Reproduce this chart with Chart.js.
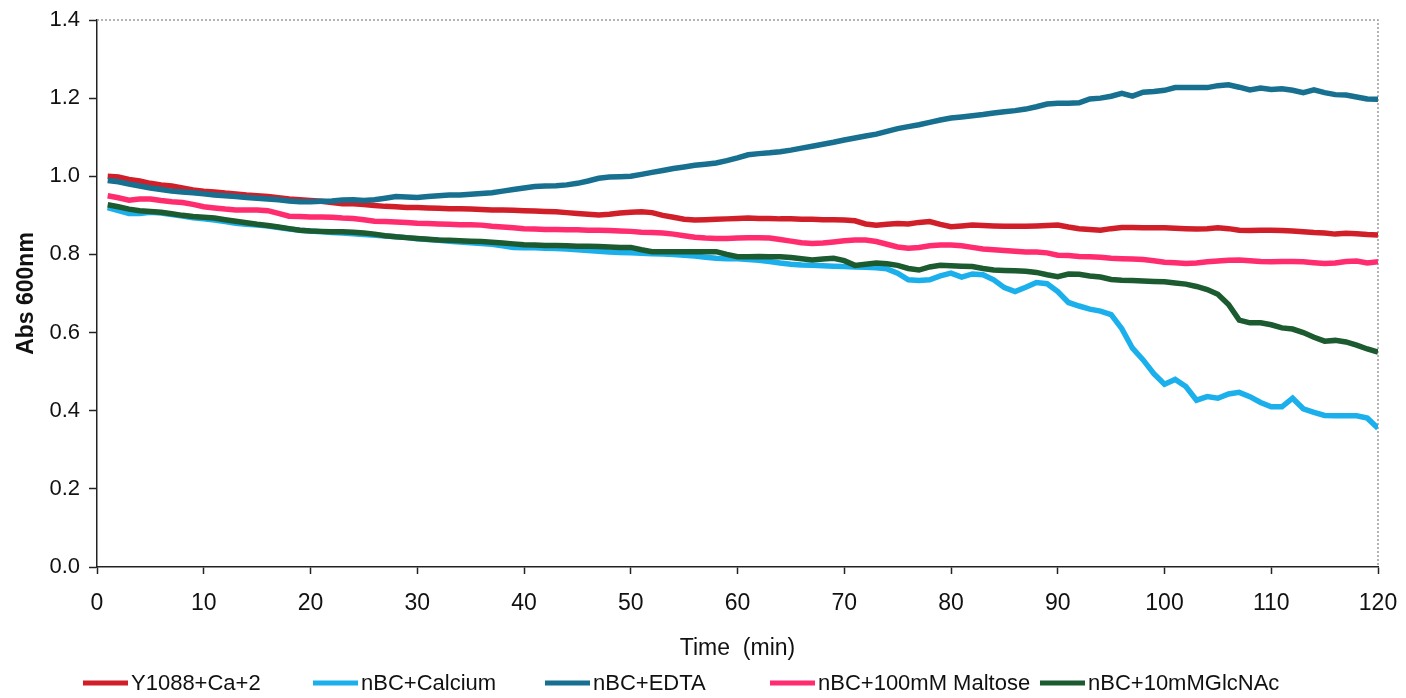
<!DOCTYPE html>
<html>
<head>
<meta charset="utf-8">
<script src="https://cdn.jsdelivr.net/npm/chart.js@4.4.1/dist/chart.umd.min.js"></script>
<style>
  html, body { margin: 0; padding: 0; background: #fff; }
  #wrap { width: 1406px; height: 698px; }
</style>
</head>
<body>
<div id="wrap"><canvas id="absChart" width="1406" height="698"></canvas></div>
<script>
// --- Data (one reading per minute) ---
const times = [
  1, 2, 3, 4, 5, 6, 7, 8, 9, 10, 11, 12, 13, 14, 15, 16, 17, 18, 19, 20,
  21, 22, 23, 24, 25, 26, 27, 28, 29, 30, 31, 32, 33, 34, 35, 36, 37, 38, 39, 40,
  41, 42, 43, 44, 45, 46, 47, 48, 49, 50, 51, 52, 53, 54, 55, 56, 57, 58, 59, 60,
  61, 62, 63, 64, 65, 66, 67, 68, 69, 70, 71, 72, 73, 74, 75, 76, 77, 78, 79, 80,
  81, 82, 83, 84, 85, 86, 87, 88, 89, 90, 91, 92, 93, 94, 95, 96, 97, 98, 99, 100,
  101, 102, 103, 104, 105, 106, 107, 108, 109, 110, 111, 112, 113, 114, 115, 116, 117, 118, 119, 120
];

const y1088Ca = [
  1.000, 0.998, 0.992, 0.988, 0.982, 0.978, 0.975, 0.970, 0.965, 0.962,
  0.960, 0.957, 0.955, 0.952, 0.950, 0.948, 0.945, 0.942, 0.940, 0.938,
  0.936, 0.933, 0.930, 0.930, 0.928, 0.925, 0.923, 0.922, 0.920, 0.920,
  0.919, 0.918, 0.917, 0.917, 0.916, 0.915, 0.914, 0.914, 0.913, 0.912,
  0.911, 0.910, 0.909, 0.907, 0.905, 0.903, 0.901, 0.903, 0.906, 0.908,
  0.909, 0.907, 0.900, 0.895, 0.890, 0.888, 0.889, 0.890, 0.891, 0.892,
  0.893, 0.892, 0.892, 0.891, 0.891, 0.890, 0.890, 0.889, 0.889, 0.888,
  0.886, 0.878, 0.875, 0.877, 0.879, 0.878, 0.882, 0.884, 0.877, 0.871,
  0.873, 0.875, 0.874, 0.873, 0.872, 0.872, 0.872, 0.873, 0.874, 0.875,
  0.870, 0.866, 0.864, 0.862, 0.866, 0.869, 0.869, 0.868, 0.868, 0.868,
  0.867, 0.866, 0.865, 0.866, 0.868, 0.866, 0.862, 0.861, 0.862, 0.862,
  0.861, 0.860, 0.858, 0.856, 0.855, 0.852, 0.854, 0.853, 0.851, 0.850
];

const nbcCalcium = [
  0.920, 0.912, 0.905, 0.905, 0.908, 0.906, 0.902, 0.898, 0.894, 0.891,
  0.888, 0.884, 0.880, 0.877, 0.875, 0.873, 0.869, 0.865, 0.862, 0.860,
  0.858, 0.856, 0.855, 0.853, 0.851, 0.849, 0.847, 0.845, 0.843, 0.840,
  0.838, 0.836, 0.834, 0.832, 0.830, 0.828, 0.826, 0.822, 0.818, 0.817,
  0.817, 0.816, 0.815, 0.814, 0.812, 0.810, 0.808, 0.806, 0.805, 0.804,
  0.803, 0.802, 0.801, 0.800, 0.798, 0.796, 0.793, 0.790, 0.789, 0.789,
  0.787, 0.785, 0.782, 0.778, 0.775, 0.773, 0.772, 0.771, 0.770, 0.769,
  0.768, 0.767, 0.766, 0.763, 0.752, 0.735, 0.733, 0.735, 0.745, 0.752,
  0.742, 0.750, 0.748, 0.735, 0.715, 0.705, 0.716, 0.728, 0.725, 0.705,
  0.677, 0.668, 0.660, 0.655, 0.646, 0.610, 0.560, 0.530, 0.495, 0.468,
  0.480, 0.462, 0.427, 0.436, 0.432, 0.443, 0.447, 0.436, 0.421, 0.410,
  0.410, 0.432, 0.405, 0.396, 0.388, 0.387, 0.387, 0.387, 0.381, 0.355
];

const nbcEdta = [
  0.989, 0.986, 0.980, 0.975, 0.970, 0.966, 0.962, 0.960, 0.958, 0.955,
  0.952, 0.950, 0.948, 0.946, 0.944, 0.942, 0.940, 0.937, 0.935, 0.935,
  0.936, 0.937, 0.939, 0.940, 0.938, 0.940, 0.944, 0.948, 0.947, 0.946,
  0.948, 0.950, 0.952, 0.952, 0.954, 0.956, 0.958, 0.962, 0.966, 0.970,
  0.974, 0.975, 0.976, 0.978, 0.982, 0.988, 0.995, 0.998, 0.999, 1.000,
  1.005, 1.010, 1.015, 1.020, 1.024, 1.028, 1.031, 1.034, 1.040, 1.047,
  1.055, 1.058, 1.060, 1.063, 1.067, 1.072, 1.077, 1.082, 1.087, 1.093,
  1.098, 1.103, 1.108, 1.115, 1.122, 1.127, 1.132, 1.138, 1.144, 1.149,
  1.152, 1.155, 1.158, 1.162, 1.165, 1.168, 1.172, 1.178, 1.185, 1.187,
  1.187, 1.188, 1.198, 1.200, 1.205, 1.212, 1.205, 1.215, 1.217, 1.220,
  1.227, 1.227, 1.227, 1.227, 1.232, 1.234, 1.228, 1.221, 1.226, 1.222,
  1.224, 1.220, 1.214, 1.221, 1.214, 1.209, 1.208, 1.203, 1.198, 1.197
];

const nbcMaltose = [
  0.950, 0.945, 0.939, 0.942, 0.942, 0.938, 0.935, 0.933, 0.928, 0.922,
  0.919, 0.916, 0.914, 0.914, 0.914, 0.912, 0.905, 0.898, 0.897, 0.896,
  0.896, 0.895, 0.893, 0.892, 0.889, 0.885, 0.884, 0.883, 0.882, 0.880,
  0.879, 0.878, 0.877, 0.876, 0.876, 0.875, 0.872, 0.870, 0.868, 0.866,
  0.865, 0.864, 0.864, 0.863, 0.863, 0.862, 0.862, 0.861, 0.860, 0.859,
  0.857, 0.856, 0.855, 0.852, 0.848, 0.844, 0.842, 0.841, 0.841, 0.842,
  0.843, 0.843, 0.842, 0.838, 0.834, 0.830, 0.828, 0.829, 0.832, 0.835,
  0.837, 0.837, 0.833, 0.826, 0.819, 0.816, 0.818, 0.822, 0.824, 0.824,
  0.822, 0.818, 0.814, 0.812, 0.810, 0.808, 0.806, 0.806, 0.804, 0.798,
  0.797, 0.795, 0.794, 0.793, 0.790, 0.789, 0.788, 0.787, 0.784, 0.780,
  0.779, 0.777, 0.778, 0.781, 0.783, 0.785, 0.786, 0.784, 0.782, 0.781,
  0.782, 0.782, 0.781, 0.779, 0.777, 0.778, 0.782, 0.783, 0.778, 0.781
];

const nbcGlcNAc = [
  0.927, 0.922, 0.916, 0.912, 0.910, 0.908, 0.904, 0.900, 0.897, 0.895,
  0.893, 0.889, 0.885, 0.881, 0.877, 0.874, 0.870, 0.866, 0.862, 0.860,
  0.859, 0.858, 0.858, 0.857, 0.855, 0.852, 0.848, 0.845, 0.843, 0.841,
  0.839, 0.837, 0.836, 0.835, 0.834, 0.833, 0.831, 0.829, 0.827, 0.825,
  0.824, 0.823, 0.823, 0.822, 0.821, 0.821, 0.820, 0.819, 0.818, 0.818,
  0.812, 0.807, 0.807, 0.807, 0.807, 0.807, 0.807, 0.807, 0.800, 0.794,
  0.794, 0.795, 0.794, 0.794, 0.792, 0.789, 0.786, 0.788, 0.790, 0.784,
  0.772, 0.775, 0.778, 0.776, 0.772, 0.764, 0.760, 0.768, 0.772, 0.771,
  0.770, 0.769, 0.764, 0.760, 0.759, 0.758, 0.757, 0.754, 0.748, 0.743,
  0.750, 0.749, 0.745, 0.742, 0.736, 0.734, 0.733, 0.732, 0.731, 0.730,
  0.727, 0.724, 0.718, 0.710, 0.698, 0.672, 0.632, 0.625, 0.625, 0.620,
  0.612, 0.609, 0.600, 0.588, 0.578, 0.580, 0.576, 0.568, 0.558, 0.550
];

const seriesNames = ['Y1088+Ca+2', 'nBC+Calcium', 'nBC+EDTA', 'nBC+100mM Maltose', 'nBC+10mMGlcNAc'];
const seriesValues = [y1088Ca, nbcCalcium, nbcEdta, nbcMaltose, nbcGlcNAc];
const seriesColors = ['#d11f29', '#1bb0ec', '#17708f', '#ff2d6f', '#1c5a30'];
// later series sit on top, as in the original spreadsheet plot
const drawOrder = [4, 3, 2, 1, 0];

const yTicks = [0, 0.2, 0.4, 0.6, 0.8, 1.0, 1.2, 1.4];
const xTicks = [0, 10, 20, 30, 40, 50, 60, 70, 80, 90, 100, 110, 120];

const FONT = "'Liberation Sans', Arial, sans-serif";

// top/right frame of the plot area (light dotted like the scan)
const framePlugin = {
    id: 'frame',
    beforeDatasetsDraw(chart) {
        const { ctx, chartArea: a } = chart;
        ctx.save();
        ctx.strokeStyle = '#9a9a9a';
        ctx.lineWidth = 1.5;
        ctx.setLineDash([2, 2]);
        ctx.beginPath();
        ctx.moveTo(a.left, a.top);
        ctx.lineTo(a.right, a.top);
        ctx.lineTo(a.right, a.bottom);
        ctx.stroke();
        ctx.restore();
    }
};

// legend row under the axis title
const legendPlugin = {
    id: 'rowLegend',
    afterDraw(chart) {
        const { ctx } = chart;
        const starts = [83, 313, 545, 770, 1040];
        const y = 683;
        ctx.save();
        ctx.font = `22px ${FONT}`;
        ctx.textBaseline = 'middle';
        ctx.textAlign = 'left';
        chart.data.datasets.forEach((ds, i) => {
            const x = starts[i];
            ctx.strokeStyle = ds.borderColor;
            ctx.lineWidth = 5;
            ctx.beginPath();
            ctx.moveTo(x, y);
            ctx.lineTo(x + 45, y);
            ctx.stroke();
            ctx.fillStyle = '#111';
            ctx.fillText(ds.label, x + 48, y + 1);
        });
        ctx.restore();
    }
};

const ctx = document.getElementById('absChart').getContext('2d');
new Chart(ctx, {
    type: 'line',
    data: {
        datasets: seriesNames.map((name, i) => ({
            label: name,
            data: times.map((t, k) => ({ x: t, y: seriesValues[i][k] })),
            borderColor: seriesColors[i],
            backgroundColor: seriesColors[i],
            borderWidth: 5.5,
            pointRadius: 0,
            tension: 0,
            fill: false,
            order: drawOrder[i]
        }))
    },
    options: {
        responsive: false,
        animation: false,
        layout: { padding: { top: 20, right: 28, left: 0, bottom: 0 } },
        plugins: {
            legend: { display: false },
            tooltip: { enabled: false }
        },
        scales: {
            x: {
                type: 'linear',
                min: 0,
                max: 120,
                afterBuildTicks: (scale) => { scale.ticks = xTicks.map(v => ({ value: v })); },
                afterFit: (scale) => {
                    scale.height = 131;
                    scale.paddingLeft = 0;
                    scale.paddingRight = 0;
                },
                grid: { drawOnChartArea: false, tickLength: 7, color: '#222', tickWidth: 1.5 },
                border: { color: '#222', width: 1.5 },
                ticks: {
                    color: '#111',
                    padding: 16,
                    maxRotation: 0,
                    font: { family: FONT, size: 23 }
                },
                title: {
                    display: true,
                    text: 'Time  (min)',
                    color: '#111',
                    font: { family: FONT, size: 23 },
                    padding: { top: 0, bottom: 36 }
                }
            },
            y: {
                min: 0,
                max: 1.4,
                afterBuildTicks: (scale) => { scale.ticks = yTicks.map(v => ({ value: v })); },
                afterFit: (scale) => {
                    scale.width = 97;
                    scale.paddingTop = 0;
                    scale.paddingBottom = 0;
                },
                grid: { drawOnChartArea: false, tickLength: 8, color: '#222', tickWidth: 1.5 },
                border: { color: '#222', width: 1.5 },
                ticks: {
                    color: '#111',
                    padding: 9,
                    font: { family: FONT, size: 22 },
                    callback: (v) => Number(v).toFixed(1)
                },
                title: {
                    display: true,
                    text: 'Abs 600nm',
                    color: '#111',
                    font: { family: FONT, size: 23, weight: 'bold' },
                    padding: { top: 13, bottom: 0 }
                }
            }
        }
    },
    plugins: [framePlugin, legendPlugin]
});
</script>
</body>
</html>
